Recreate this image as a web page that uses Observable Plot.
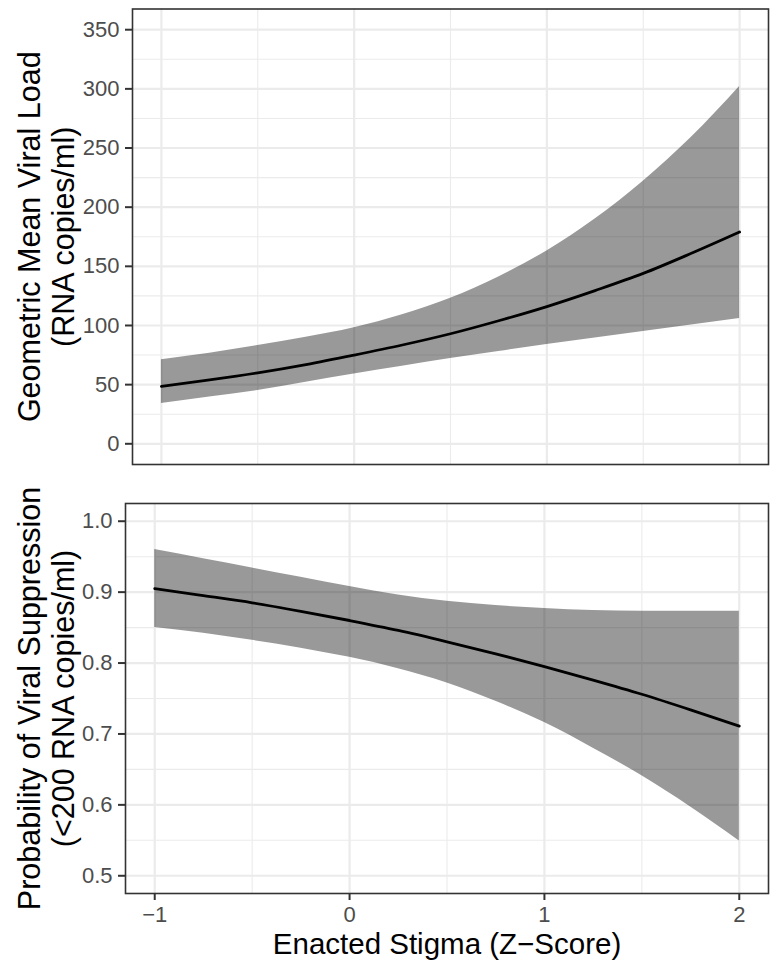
<!DOCTYPE html>
<html>
<head>
<meta charset="utf-8">
<script src="https://cdn.jsdelivr.net/npm/d3@7"></script>
<script src="https://cdn.jsdelivr.net/npm/@observablehq/plot@0.6"></script>
<style>
  html, body { margin: 0; padding: 0; background: #fff; }
  #wrap { position: relative; width: 778px; height: 975px; background: #fff; font-family: "Liberation Sans", Arial, Helvetica, sans-serif; }
  #wrap > svg, #wrap > figure { position: absolute; left: 0; margin: 0; }
  g[aria-label="x-axis tick label"] text, g[aria-label="y-axis tick label"] text { fill: #4D4D4D; }
</style>
</head>
<body>
<div id="wrap"></div>
<script>
// ---- Data ----
const stigma = [-1, -0.75, -0.5, -0.25, 0, 0.25, 0.5, 0.75, 1, 1.25, 1.5, 1.75, 2];

// Top panel: geometric mean viral load
const vlMean  = [48.5, 54, 60, 67, 75, 83.5, 93, 104, 116, 129.5, 144, 161, 179];
const vlUpper = [71, 76.5, 83, 90, 98, 109, 123, 141, 163, 190, 222, 259, 302];
const vlLower = [34, 39.5, 45, 52, 59, 65.5, 72, 78, 84, 89.5, 95, 100.5, 106];

// Bottom panel: probability of viral suppression
const psMean  = [0.905, 0.895, 0.885, 0.873, 0.860, 0.846, 0.830, 0.813, 0.795, 0.776, 0.756, 0.734, 0.711];
const psUpper = [0.960, 0.947, 0.934, 0.921, 0.908, 0.896, 0.887, 0.881, 0.877, 0.874, 0.873, 0.873, 0.873];
const psLower = [0.850, 0.842, 0.832, 0.821, 0.808, 0.792, 0.772, 0.746, 0.716, 0.680, 0.641, 0.597, 0.549];

// Ticks / grid
const xMajor = [-1, 0, 1, 2];
const xMinor = [-0.5, 0.5, 1.5];
const vlMajor = [0, 50, 100, 150, 200, 250, 300, 350];
const vlMinor = [25, 75, 125, 175, 225, 275, 325];
const psMajor = [0.5, 0.6, 0.7, 0.8, 0.9, 1.0];
const psMinor = [0.55, 0.65, 0.75, 0.85, 0.95];

// Labels
const xTitle = "Enacted Stigma (Z\u2212Score)";
const vlTitle = "Geometric Mean Viral Load\n(RNA copies/ml)";
const psTitle = "Probability of Viral Suppression\n(<200 RNA copies/ml)";

const FONT = "'Liberation Sans', Arial, Helvetica, sans-serif";
const vlRows = stigma.map((x, i) => ({x, mean: vlMean[i], lo: vlLower[i], hi: vlUpper[i]}));
const psRows = stigma.map((x, i) => ({x, mean: psMean[i], lo: psLower[i], hi: psUpper[i]}));

const gridMajor = {stroke: "#EBEBEB", strokeWidth: 2.2};
const gridMinor = {stroke: "#EBEBEB", strokeWidth: 1.1};

function panel({data, yDomain, yMajor, yMinor, yFmt, title, width, height, mL, mT, mB, showX}) {
  const marks = [
    Plot.ruleY(yMinor, {y: d => d, ...gridMinor}),
    Plot.ruleX(xMinor, {x: d => d, ...gridMinor}),
    Plot.ruleY(yMajor, {y: d => d, ...gridMajor}),
    Plot.ruleX(xMajor, {x: d => d, ...gridMajor}),
    Plot.areaY(data, {x: "x", y1: "lo", y2: "hi", fill: "black", fillOpacity: 0.4, curve: "monotone-x"}),
    Plot.lineY(data, {x: "x", y: "mean", stroke: "black", strokeWidth: 2.8, curve: "monotone-x"}),
    Plot.frame({stroke: "#333333", strokeWidth: 1.6}),
    Plot.axisY(yMajor, {tickSize: 7, tickPadding: 6, color: "#333333", strokeWidth: 2, fontSize: 22, tickFormat: yFmt, label: null}),
    Plot.text([title], {text: d => d, frameAnchor: "left", dx: 46 - mL, rotate: -90, fontSize: 30.5, lineHeight: 1.1, textAnchor: "middle", lineAnchor: "middle", fill: "black"})
  ];
  if (showX) {
    marks.push(Plot.axisX(xMajor, {tickSize: 7, tickPadding: 6, color: "#333333", strokeWidth: 2, fontSize: 22, tickFormat: d => d < 0 ? "\u2212" + Math.abs(d) : String(d), label: null}));
    marks.push(Plot.text([xTitle], {text: d => d, frameAnchor: "bottom", dy: 60, fontSize: 29.5, textAnchor: "middle", fill: "black"}));
  }
  return Plot.plot({
    width, height,
    marginLeft: mL, marginRight: 10, marginTop: mT, marginBottom: mB,
    style: {fontFamily: FONT, background: "white", overflow: "visible"},
    x: {domain: [-1.15, 2.15], axis: null},
    y: {domain: yDomain, axis: null},
    marks
  });
}

const wrap = document.getElementById("wrap");

const p1 = panel({
  data: vlRows, yDomain: [-17.5, 367.5], yMajor: vlMajor, yMinor: vlMinor,
  yFmt: d => String(d), title: vlTitle,
  width: 778, height: 475, mL: 132, mT: 8.5, mB: 11, showX: false
});
p1.style.top = "0px";
wrap.appendChild(p1);

const p2 = panel({
  data: psRows, yDomain: [0.475, 1.025], yMajor: psMajor, yMinor: psMinor,
  yFmt: d => d.toFixed(1), title: psTitle,
  width: 778, height: 500, mL: 125, mT: 28, mB: 82, showX: true
});
p2.style.top = "475px";
wrap.appendChild(p2);
</script>
</body>
</html>
